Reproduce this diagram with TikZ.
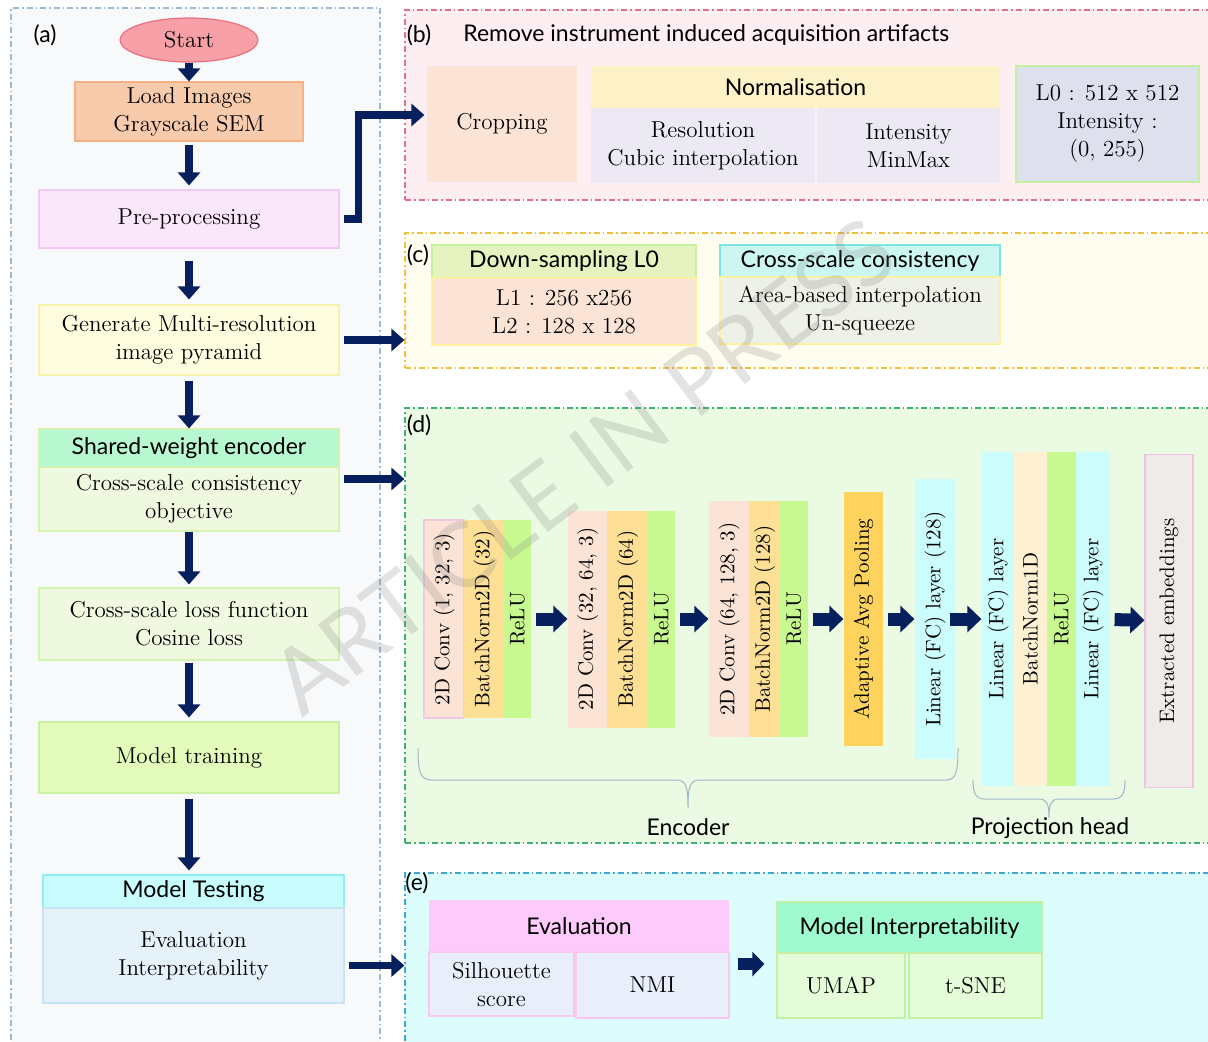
\documentclass[tikz,border=0pt]{standalone}
\usepackage{fontspec}
\newfontfamily\sansf{Lato}
\usepackage{tikz}
\usetikzlibrary{positioning}
\usetikzlibrary{shapes.geometric, arrows.meta}

\definecolor{navy}{RGB}{5,32,92}
\definecolor{acol}{HTML}{9DB9D3}\definecolor{afill}{HTML}{F8F9FA}
\definecolor{bcol}{HTML}{E07090}\definecolor{bfill}{HTML}{FDEEF2}
\definecolor{ccol}{HTML}{F0C040}\definecolor{cfill}{HTML}{FFFDEF}
\definecolor{dcol}{HTML}{40B070}\definecolor{dfill}{HTML}{EBFBE3}
\definecolor{ecol}{HTML}{40A8D0}\definecolor{efill}{HTML}{DDFCFC}
\definecolor{startf}{HTML}{F8A0A8}\definecolor{startb}{HTML}{E87080}
\definecolor{loadf}{HTML}{F8CBAD}\definecolor{loadb}{HTML}{F4B183}
\definecolor{pref}{HTML}{FAE8FA}\definecolor{preb}{HTML}{F4C8F4}
\definecolor{genf}{HTML}{FEFDE0}\definecolor{genb}{HTML}{F8F2A8}
\definecolor{mint}{HTML}{B8F8D0}\definecolor{paleg}{HTML}{EEF9E0}\definecolor{palegb}{HTML}{D4F2B0}
\definecolor{trainf}{HTML}{E2FABA}\definecolor{trainb}{HTML}{CBEFA0}
\definecolor{cyanf}{HTML}{C8FCFC}\definecolor{cyanb}{HTML}{90EEF0}
\definecolor{testf}{HTML}{E6F2FA}\definecolor{testb}{HTML}{C8E4F4}
\definecolor{peach}{HTML}{FBE3D6}\definecolor{cream}{HTML}{FDF1C8}
\definecolor{lav}{HTML}{ECE9F5}\definecolor{lgray}{HTML}{DEE0EE}
\definecolor{lgreen}{HTML}{C5F0A4}\definecolor{ygreen}{HTML}{E6F3C0}
\definecolor{aqua}{HTML}{CCF7F0}\definecolor{aquab}{HTML}{7EE6E0}
\definecolor{graygreen}{HTML}{EEF1E8}\definecolor{yelb}{HTML}{FDF0A0}
\definecolor{convb}{HTML}{F0C8E0}\definecolor{bnf}{HTML}{FEDF96}
\definecolor{reluf}{HTML}{C8F890}\definecolor{poolf}{HTML}{FDD35E}
\definecolor{fcf}{HTML}{CCFCFC}\definecolor{pbnf}{HTML}{FEF0D2}
\definecolor{embf}{HTML}{EFEBE8}\definecolor{embb}{HTML}{F2C2E4}
\definecolor{pinkf}{HTML}{FCCBFC}\definecolor{bluish}{HTML}{E8EEFA}
\definecolor{pinkb}{HTML}{F8C8F0}\definecolor{mintb}{HTML}{A0FAD0}
\definecolor{umapf}{HTML}{E4FCD8}\definecolor{bracec}{HTML}{9FB6C8}

\begin{document}
\begin{tikzpicture}[x=0.5pt, y=-0.5pt,
    cell/.style={rectangle, inner sep=0pt, align=center, line width=0.6pt, font=\fontsize{11.5}{14}\selectfont},
    sans/.style={font=\sansf\fontsize{11.5}{14}\selectfont},
    panel/.style={rectangle, inner sep=0pt, line width=0.6pt, dash pattern=on 3pt off 1.5pt on 0.8pt off 1.5pt},
    lyr/.style={cell, rotate=90, font=\fontsize{10.5}{14}\selectfont},
    flow/.style={-{Triangle[width=11pt,length=6.5pt]}, line width=3.8pt, navy},
    fat/.style={-{Triangle[width=13pt,length=7pt]}, line width=6.5pt, navy, shorten <=2pt},
    bline/.style={line width=0.5pt, bracec}]
\useasboundingbox (0,0) rectangle (1208,1041);

% paneles
\node[panel, draw=acol, fill=afill, minimum width=184.5pt, minimum height=519pt] (pana) at (195.5,527) {};
\node[panel, draw=bcol, fill=bfill, minimum width=402.5pt, minimum height=95pt] (panb) at (807.5,105) {};
\node[panel, draw=ccol, fill=cfill, minimum width=402.5pt, minimum height=67.5pt] (panc) at (807.5,300.5) {};
\node[panel, draw=dcol, fill=dfill, minimum width=402.5pt, minimum height=217.5pt] (pand) at (807.5,625.5) {};
\node[panel, draw=ecol, fill=efill, minimum width=402.5pt, minimum height=86.5pt] (pane) at (807.5,959.5) {};
\node[sans] (la) at (45,35) {(a)};
\node[sans] (lb) at (419,35) {(b)};
\node[sans] (lc) at (418,255) {(c)};
\node[sans] (ld) at (419,425) {(d)};
\node[sans] (le) at (417,883) {(e)};

% (a) flujo
\node[ellipse, draw=startb, fill=startf, line width=0.6pt, inner sep=0pt, minimum width=69pt, minimum height=22pt, font=\fontsize{11.5}{14}\selectfont] (start) at (189,40) {Start};
\node[cell, draw=loadb, fill=loadf, minimum width=114pt, minimum height=29.5pt] (load) at (189,111.5) {Load Images\\Grayscale SEM};
\node[cell, draw=preb, fill=pref, minimum width=150pt, minimum height=29pt] (pre) at (189,219) {Pre-processing};
\node[cell, draw=genb, fill=genf, minimum width=150pt, minimum height=35pt] (gen) at (189,340) {Generate Multi-resolution\\image pyramid};
\node[cell, sans, draw=palegb, fill=mint, minimum width=150pt, minimum height=19pt] (sharedh) at (189,448) {Shared-weight encoder};
\node[cell, draw=palegb, fill=paleg, minimum width=150pt, minimum height=32pt] (sharedb) at (189,499) {Cross-scale consistency\\objective};
\node[cell, draw=palegb, fill=paleg, minimum width=150pt, minimum height=36pt] (loss) at (189,624) {Cross-scale loss function\\Cosine loss};
\node[cell, draw=trainb, fill=trainf, minimum width=150pt, minimum height=35.5pt] (train) at (189,757.5) {Model training};
\node[cell, sans, draw=cyanb, fill=cyanf, minimum width=150.5pt, minimum height=16.5pt] (testh) at (193.5,891.5) {Model Testing};
\node[cell, draw=testb, fill=testf, minimum width=150.5pt, minimum height=47.5pt] (testb) at (193.5,955.5) {Evaluation\\Interpretability};

\draw[flow] (start) -- (load);
\draw[flow, shorten <=1.5pt, shorten >=2pt] (load) -- (pre);
\draw[flow, shorten <=6pt, shorten >=2.5pt] (pre) -- (gen);
\draw[flow, shorten <=2.5pt] (gen) -- (sharedh);
\draw[flow, shorten >=1.5pt] (sharedb) -- (loss);
\draw[flow, shorten <=1pt, shorten >=2pt] (loss) -- (train);
\draw[flow, shorten <=2.5pt, shorten >=2pt] (train) -- (train |- testh.north);

% (b)
\node[sans, anchor=west, inner sep=0pt] (titb) at (463,35) {Remove instrument induced acquisition artifacts};
\node[cell, fill=peach, minimum width=75pt, minimum height=58pt] (crop) at (502,124) {Cropping};
\node[cell, sans, fill=cream, minimum width=204.5pt, minimum height=21pt] (norm) at (795.5,87) {Normalisation};
\node[cell, fill=lav, minimum width=112pt, minimum height=37.5pt] (resol) at (703,145.5) {Resolution\\Cubic interpolation};
\node[cell, fill=lav, minimum width=91.5pt, minimum height=37.5pt] (inten) at (908.5,145.5) {Intensity\\MinMax};
\node[cell, draw=lgreen, line width=0.8pt, fill=lgray, minimum width=91.5pt, minimum height=58pt] (lzero) at (1107.5,124) {L0 : 512 x 512\\Intensity :\\(0, 255)};
\draw[flow, shorten <=2pt, shorten >=1pt] (pre.east) -- ++(9.5pt,0) |- ([yshift=4.5pt]crop.west);

% (c)
\node[cell, sans, draw=lgreen, fill=ygreen, minimum width=132pt, minimum height=16.5pt] (downh) at (564,261.5) {Down-sampling L0};
\node[cell, draw=yelb, fill=peach, minimum width=132pt, minimum height=33.5pt] (downb) at (564,311.5) {L1 : 256 x256\\L2 : 128 x 128};
\node[cell, sans, draw=aquab, fill=aqua, minimum width=140pt, minimum height=16pt] (crossh) at (860,261) {Cross-scale consistency};
\node[cell, draw=yelb, fill=graygreen, minimum width=140pt, minimum height=33.5pt] (crossb) at (860,310.5) {Area-based interpolation\\Un-squeeze};
\draw[flow, shorten <=2pt] (gen.east) -- (gen.east -| panc.west);

% (d) encoder
\node[lyr, draw=convb, fill=peach, minimum width=99pt, minimum height=20pt] (conva) at (444,619) {2D Conv (1, 32, 3)};
\node[lyr, fill=bnf, minimum width=99pt, minimum height=20pt] (bna) at (484,619) {BatchNorm2D (32)};
\node[lyr, fill=reluf, minimum width=99pt, minimum height=13.5pt] (relua) at (517.5,619) {ReLU};
\node[lyr, fill=peach, minimum width=108.5pt, minimum height=19.5pt] (convb) at (587.5,619) {2D Conv (32, 64, 3)};
\node[lyr, fill=bnf, minimum width=108.5pt, minimum height=20.5pt] (bnb) at (627.5,619) {BatchNorm2D (64)};
\node[lyr, fill=reluf, minimum width=108.5pt, minimum height=13.5pt] (relub) at (661.5,619) {ReLU};
\node[lyr, fill=peach, minimum width=118pt, minimum height=20pt] (convc) at (729,619) {2D Conv (64, 128, 3)};
\node[lyr, fill=bnf, minimum width=118pt, minimum height=15.5pt] (bnc) at (764.5,619) {BatchNorm2D (128)};
\node[lyr, fill=reluf, minimum width=118pt, minimum height=14pt] (reluc) at (794,619) {ReLU};
\node[lyr, fill=poolf, minimum width=127pt, minimum height=19.5pt] (pool) at (863.5,619) {Adaptive Avg Pooling};
\node[lyr, fill=fcf, minimum width=140pt, minimum height=20pt] (fc) at (935,619) {Linear (FC) layer (128)};
% (d) proyeccion
\node[lyr, fill=fcf, minimum width=167pt, minimum height=16pt] (pfca) at (998,619) {Linear (FC) layer};
\node[lyr, fill=pbnf, minimum width=167pt, minimum height=16.5pt] (pbn) at (1030.5,619) {BatchNorm1D};
\node[lyr, fill=reluf, minimum width=167pt, minimum height=14.5pt] (prelu) at (1061.5,619) {ReLU};
\node[lyr, fill=fcf, minimum width=167pt, minimum height=17pt] (pfcb) at (1093,619) {Linear (FC) layer};
\node[lyr, draw=embb, fill=embf, minimum width=166.5pt, minimum height=24pt] (emb) at (1169,621) {Extracted embeddings};

\draw[fat] (relua) -- (convb);
\draw[fat] (relub) -- (convc);
\draw[fat] (reluc) -- (pool);
\draw[fat] (pool) -- (fc);
\draw[fat, shorten <=-3pt] (fc) -- (pfca);
\draw[fat] (pfcb) -- (emb);
\draw[flow, shorten <=2pt] ([yshift=10pt]sharedb.east) -- ([yshift=10pt]sharedb.east -| pand.west);

% llaves
\draw[bline] (418,748) .. controls (418,772) and (420,780) .. (432,780) -- (676,780)
  .. controls (686,780) and (688,786) .. (688,808) .. controls (688,786) and (690,780) .. (700,780)
  -- (946,780) .. controls (956,780) and (958,772) .. (958,748);
\draw[bline] (973,780) .. controls (973,792) and (975,799) .. (985,799) -- (1039,799)
  .. controls (1047,799) and (1049,804) .. (1049,818) .. controls (1049,804) and (1051,799) .. (1059,799)
  -- (1113,799) .. controls (1123,799) and (1125,792) .. (1125,780);
\node[sans] (enc) at (688,827) {Encoder};
\node[sans] (proj) at (1050,828) {Projection head};

% (e)
\node[cell, sans, fill=pinkf, minimum width=150pt, minimum height=26pt] (evalh) at (579,926) {Evaluation};
\node[cell, draw=pinkb, fill=bluish, minimum width=72.5pt, minimum height=32pt] (sil) at (501.5,984) {Silhouette\\score};
\node[cell, draw=pinkb, fill=bluish, minimum width=76.5pt, minimum height=33pt] (nmi) at (652.5,985) {NMI};
\node[cell, sans, draw=lgreen, fill=mintb, minimum width=132.5pt, minimum height=25.5pt] (interh) at (909.5,927.5) {Model Interpretability};
\node[cell, draw=lgreen, fill=umapf, minimum width=64pt, minimum height=32.5pt] (umap) at (841,985.5) {UMAP};
\node[cell, draw=lgreen, fill=umapf, minimum width=66.5pt, minimum height=32.5pt] (tsne) at (975.5,985.5) {t-SNE};
\draw[-{Triangle[width=12pt,length=6pt]}, line width=6pt, navy, shorten <=4pt, shorten >=6pt] ([yshift=10.5pt]nmi.east) -- ([yshift=10.5pt]nmi.east -| umap.west);
\draw[flow, shorten <=2pt] ([yshift=-5pt]testb.east) -- ([yshift=-5pt]testb.east -| pane.west);

% marca de agua
\node[rotate=37, text=gray, opacity=0.22, font=\sansf\fontsize{45}{45}\selectfont] (wmark) at (583,466) {ARTICLE IN PRESS};
\end{tikzpicture}
\end{document}
